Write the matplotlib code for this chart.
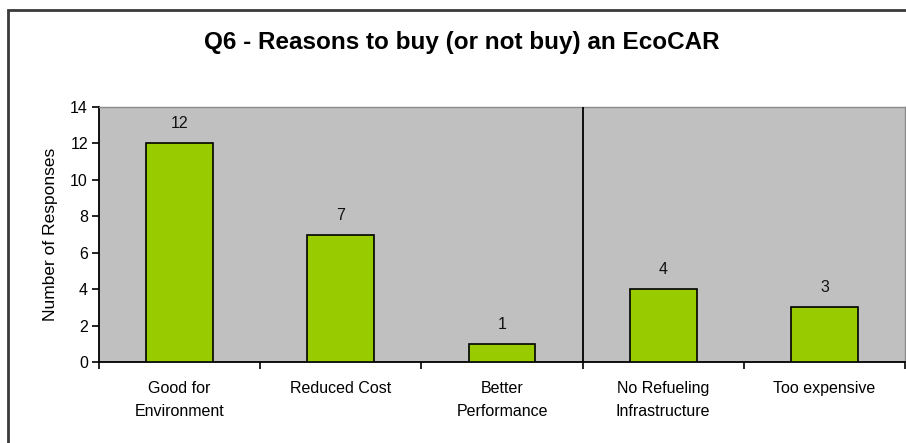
import matplotlib
matplotlib.use("Agg")
import matplotlib.pyplot as plt
from matplotlib.patches import Rectangle

categories = ["Good for\nEnvironment", "Reduced Cost", "Better\nPerformance",
              "No Refueling\nInfrastructure", "Too expensive"]
responses = [12, 7, 1, 4, 3]
yticks = [0, 2, 4, 6, 8, 10, 12, 14]
title = "Q6 - Reasons to buy (or not buy) an EcoCAR"
ylabel = "Number of Responses"

plt.rcParams['font.family'] = ['Liberation Sans', 'DejaVu Sans']

W, H = 906, 443
fig = plt.figure(figsize=(W / 100, H / 100), dpi=100)
fig.patch.set_facecolor('white')

# outer chart border (cropped at right and bottom)
fig.add_artist(Rectangle((7.5 / W, -0.1), 1.2, (H - 10.5) / H + 0.1,
                         transform=fig.transFigure, fill=False,
                         edgecolor='#3a3a3a', linewidth=2))

left, right, top, bottom = 99, 905, 107, 362
ax = fig.add_axes([left / W, 1 - bottom / H, (right - left) / W, (bottom - top) / H])
ax.set_facecolor('#C0C0C0')

x = list(range(len(categories)))
bars = ax.bar(x, responses, width=0.415, color='#99CC00', edgecolor='black',
              linewidth=1.2, zorder=3)
for xi, v in zip(x, responses):
    ax.annotate(str(v), (xi, v), xytext=(0, 14), textcoords='offset points',
                ha='center', va='center', fontsize=11.5, color='#111111')

ax.set_xlim(-0.5, len(categories) - 0.5)
ax.set_ylim(0, 14)
ax.set_yticks(yticks)
ax.set_xticks([i - 0.5 for i in range(len(categories) + 1)], minor=False)
ax.set_xticklabels([])
ax.set_xticks(x, minor=True)
ax.set_xticklabels(categories, minor=True, fontsize=11.5, linespacing=1.6,
                   va='top')
ax.tick_params(axis='x', which='minor', length=0, pad=14)
ax.tick_params(axis='x', which='major', direction='out', length=5, width=1.2)
ax.tick_params(axis='y', direction='out', length=5, width=1.2, labelsize=11.5, pad=3)

ax.axvline(2.5, color='black', linewidth=1.3, zorder=4)

for s in ['top', 'right']:
    ax.spines[s].set_color('#8a8a8a')
    ax.spines[s].set_linewidth(1)
for s in ['left', 'bottom']:
    ax.spines[s].set_color('black')
    ax.spines[s].set_linewidth(1.3)

ax.set_ylabel(ylabel, fontsize=12.5, labelpad=9)

fig.text(462 / W, 1 - 43 / H, title, ha='center', va='center',
         fontsize=17.5, fontweight='bold')

fig.savefig('out.png', dpi=100)
